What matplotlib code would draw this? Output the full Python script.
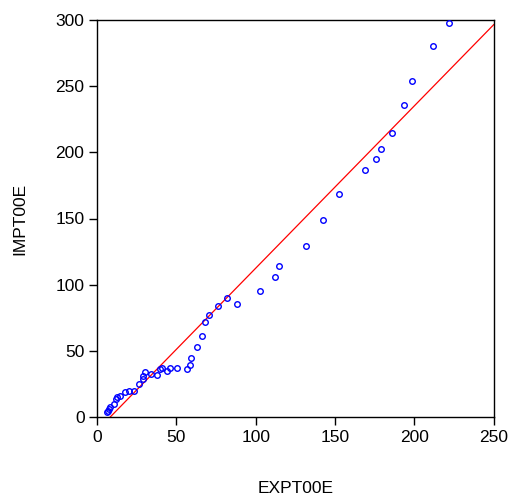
import matplotlib
matplotlib.use("Agg")
import matplotlib.pyplot as plt
import numpy as np

plt.rcParams['font.family'] = ['Liberation Sans', 'DejaVu Sans']

expt = [6.5, 7.1, 7.8, 8.4, 10.7, 12.0, 12.8, 14.7, 17.5, 20.4, 23.4, 26.5,
        29.2, 28.8, 30.3, 33.8, 37.7, 39.4, 40.8, 43.9, 46.3, 50.7, 56.6,
        58.3, 59.3, 63.1, 66.3, 68.2, 70.5, 76.2, 81.8, 88.2, 102.9, 112.4,
        114.5, 131.7, 142.2, 152.8, 168.6, 175.7, 179.1, 185.8, 193.6, 198.4,
        211.7, 222.0]
impt = [3.8, 5.0, 6.6, 8.1, 10.0, 13.6, 15.1, 16.1, 18.8, 20.1, 20.1, 25.1,
        28.9, 31.1, 34.4, 32.4, 32.2, 36.2, 37.2, 35.2, 36.9, 36.9, 36.2,
        39.2, 44.7, 53.3, 61.3, 71.6, 77.4, 84.2, 90.2, 85.2, 95.0, 105.5,
        114.0, 129.1, 148.5, 168.6, 186.9, 195.2, 202.3, 214.8, 235.7, 254.0,
        280.2, 297.5]

fit_intercept = -10.0
fit_slope = 1.225

xticks = [0, 50, 100, 150, 200, 250]
yticks = [0, 50, 100, 150, 200, 250, 300]

fig = plt.figure(figsize=(5.09, 4.97), dpi=100)
ax = fig.add_axes([97/509, 1 - 417.3/497, (493.7-97)/509, (417.3-19.7)/497])

xl = np.array([0, 250])
ax.plot(xl, fit_intercept + fit_slope * xl, color='red', lw=0.9, zorder=2)
ax.plot(expt, impt, linestyle='none', marker='o', markersize=4.0,
        markerfacecolor='none', markeredgecolor='blue', markeredgewidth=1.0,
        zorder=3)

ax.set_xlim(0, 250)
ax.set_ylim(0, 300)
ax.set_xticks(xticks)
ax.set_yticks(yticks)
ax.tick_params(direction='out', length=6, width=1, labelsize=12.5,
               top=False, right=False, pad=3)
for s in ax.spines.values():
    s.set_linewidth(1.0)
ax.set_xlabel('EXPT00E', fontsize=12.5, labelpad=26)
ax.set_ylabel('IMPT00E', fontsize=12.5, labelpad=20)

fig.savefig('out.png', dpi=100)
